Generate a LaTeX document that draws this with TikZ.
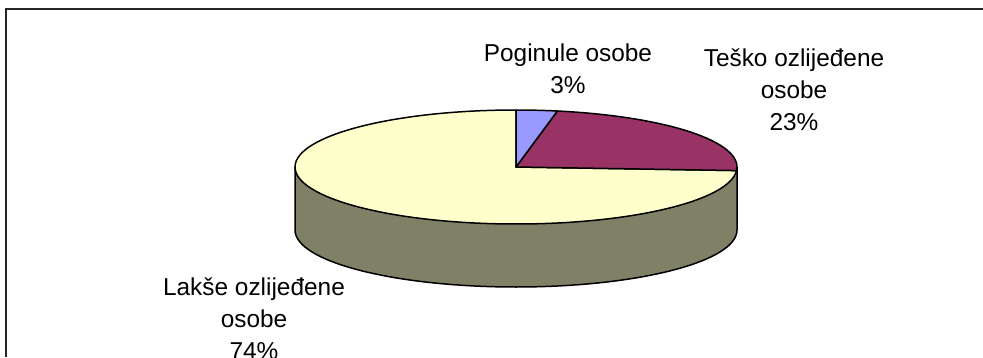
\documentclass[tikz,border=0pt]{standalone}
\usepackage{fontspec}
\setmainfont{Liberation Sans}
\usetikzlibrary{calc}
\definecolor{pieblue}{HTML}{9999FF}
\definecolor{piepurple}{HTML}{993366}
\definecolor{pieyellow}{HTML}{FFFFCC}
\definecolor{pieside}{HTML}{808066}
\begin{document}
\begin{tikzpicture}[x=1pt,y=1pt,
  slice/.style={draw=black,line width=1.5pt,line join=round},
  lbl/.style={align=center,inner sep=0pt,anchor=base,font=\fontsize{24.4}{31.6}\selectfont}]
\useasboundingbox (0,0) rectangle (983,357);
\fill[white] (0,0) rectangle (983,357);
% frame (only left and top edges visible)
\coordinate (fbl) at (5.5,0);
\coordinate (ftl) at (5.5,347.5);
\coordinate (ftr) at (983,347.5);
\draw[line width=2pt,black!85] (fbl) -- (ftl) -- (ftr);
% pie geometry
\def\cx{516}\def\cy{190}\def\rx{221}\def\ry{57}\def\dd{63}
\coordinate (c) at (\cx,\cy);
% side wall
\fill[pieside] (\cx-\rx,\cy) -- (\cx-\rx,\cy-\dd)
  arc[start angle=180,end angle=360,x radius=\rx,y radius=\ry]
  -- (\cx+\rx,\cy)
  arc[start angle=0,end angle=-180,x radius=\rx,y radius=\ry] -- cycle;
\draw[slice] (\cx-\rx,\cy) -- (\cx-\rx,\cy-\dd)
  arc[start angle=180,end angle=360,x radius=\rx,y radius=\ry]
  -- (\cx+\rx,\cy);
% top slices
\draw[slice,fill=pieyellow] (c) -- ($(c)+(-3.6:\rx pt and \ry pt)$)
  arc[start angle=-3.6,end angle=-270,x radius=\rx,y radius=\ry] -- cycle;
\draw[slice,fill=piepurple] (c) -- ($(c)+(79.2:\rx pt and \ry pt)$)
  arc[start angle=79.2,end angle=-3.6,x radius=\rx,y radius=\ry] -- cycle;
\draw[slice,fill=pieblue] (c) -- ($(c)+(90:\rx pt and \ry pt)$)
  arc[start angle=90,end angle=79.2,x radius=\rx,y radius=\ry] -- cycle;
% labels (base anchor = baseline of last line)
\node[lbl] (lpog) at (568,264) {Poginule osobe\\3\%};
\node[lbl] (ltes) at (794,227) {Teško ozlijeđene\\osobe\\23\%};
\node[lbl] (llak) at (254,-2) {Lakše ozlijeđene\\osobe\\74\%};
\end{tikzpicture}
\end{document}
